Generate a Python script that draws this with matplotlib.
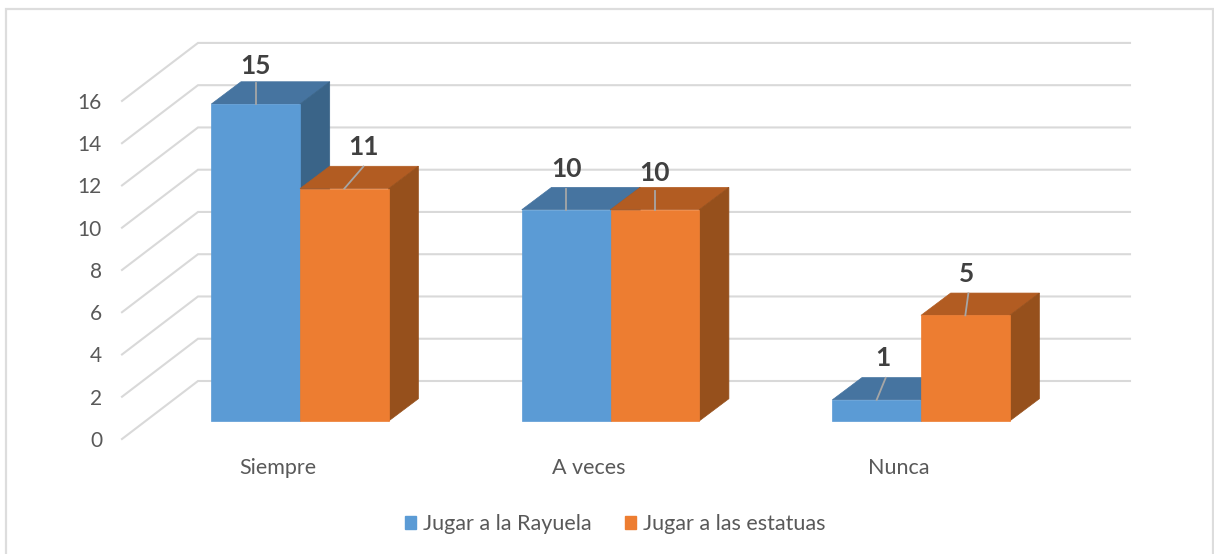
import numpy as np
import matplotlib
matplotlib.use('Agg')
import matplotlib.pyplot as plt
from matplotlib.patches import Patch, Polygon

categories = ['Siempre', 'A veces', 'Nunca']
rayuela = [15, 10, 1]
estatuas = [11, 10, 5]
y_ticks = [0, 2, 4, 6, 8, 10, 12, 14, 16]

plt.rcParams['font.family'] = ['Lato', 'DejaVu Sans']

W, H = 1214, 554
PX_X = 310.5   # pixels per category
PX_Y = 21.13   # pixels per unit of value
BASE_X = 300   # pixel of first category centre
BASE_Y = 421   # pixel of value 0 on the bar fronts
BAR_W = 88.7 / PX_X
DX = 29.7 / PX_X
DY = 22.3 / PX_Y

GRID = '#D9D9D9'
TEXT = '#595959'
LABEL = '#404040'
LEADER = '#A6A6A6'


def dx_px(p):
    return p / PX_X


def dy_px(p):
    return p / PX_Y


fig = plt.figure(figsize=(W / 100, H / 100), dpi=100)
ax = fig.add_axes([0, 0, 1, 1])
ax.set_xlim(-BASE_X / PX_X, (W - BASE_X) / PX_X)
ax.set_ylim(-(H - BASE_Y) / PX_Y, BASE_Y / PX_Y)
ax.axis('off')


# chart frame, cut off by the image at the bottom
def frame_x(p):
    return (p - BASE_X) / PX_X


def frame_y(p):
    return (BASE_Y - p) / PX_Y


ax.plot([frame_x(6), frame_x(6), frame_x(1213), frame_x(1213)],
        [frame_y(H), frame_y(9), frame_y(9), frame_y(H)],
        color='#DDDDDD', lw=1.6, solid_joinstyle='miter', zorder=1)

# gridlines run along the left wall, then along the back wall
for v in y_ticks:
    ax.plot([frame_x(122), frame_x(198), frame_x(1130)],
            [v + dy_px(-18), v + dy_px(40), v + dy_px(40)],
            color=GRID, lw=1.5, solid_joinstyle='miter', zorder=2)
    ax.text(frame_x(102), v + dy_px(-20), str(v), ha='right', va='center',
            fontsize=15, color=TEXT, zorder=3)


def draw_box(x, v, front, top, side):
    left = x
    right = x + BAR_W
    ax.add_patch(Polygon([(left, v), (right, v), (right + DX, v + DY), (left + DX, v + DY)],
                         closed=True, facecolor=top, edgecolor=top, lw=0.5, zorder=5))
    ax.add_patch(Polygon([(right, 0), (right + DX, DY), (right + DX, v + DY), (right, v)],
                         closed=True, facecolor=side, edgecolor=side, lw=0.5, zorder=5))
    ax.bar(left, v, width=BAR_W, align='edge', color=front, edgecolor=front, lw=0.5, zorder=5)


x = np.arange(len(categories))
for i in x:
    draw_box(i - BAR_W, rayuela[i], '#5B9BD5', '#4674A0', '#3A6488')
    draw_box(i, estatuas[i], '#ED7D31', '#B25C22', '#96501C')

# leader line tips and label offsets from the top of each bar front, in pixels
leader_ray = [(0, 21), (0, 21), (9, 22)]
leader_est = [(19, 22), (0, 19), (3, 22)]
label_ray = [(0, 38), (0, 41), (6, 42)]
label_est = [(19, 42), (0, 37), (1, 41)]

for i in x:
    for xc, v, tip, lab in [(i - BAR_W / 2, rayuela[i], leader_ray[i], label_ray[i]),
                            (i + BAR_W / 2, estatuas[i], leader_est[i], label_est[i])]:
        ax.plot([xc, xc + dx_px(tip[0])], [v, v + dy_px(tip[1])],
                color=LEADER, lw=1.3, zorder=6)
        ax.text(xc + dx_px(lab[0]), v + dy_px(lab[1]), str(v), ha='center', va='center',
                fontsize=19, fontweight='bold', color=LABEL, zorder=7)

for i, name in zip(x, categories):
    ax.text(i + dx_px(-22), dy_px(-47), name, ha='center', va='center',
            fontsize=15.5, color=TEXT, zorder=3)

handles = [Patch(color='#5B9BD5', label='Jugar a la Rayuela'),
           Patch(color='#ED7D31', label='Jugar a las estatuas')]
ax.legend(handles=handles, loc='center', ncol=2, frameon=False,
          bbox_to_anchor=(615 / W, 1 - 524 / H), fontsize=15.5, labelcolor=TEXT,
          handlelength=0.51, handleheight=0.51, handletextpad=0.33, columnspacing=1.53)

fig.savefig('out.png', dpi=100)
